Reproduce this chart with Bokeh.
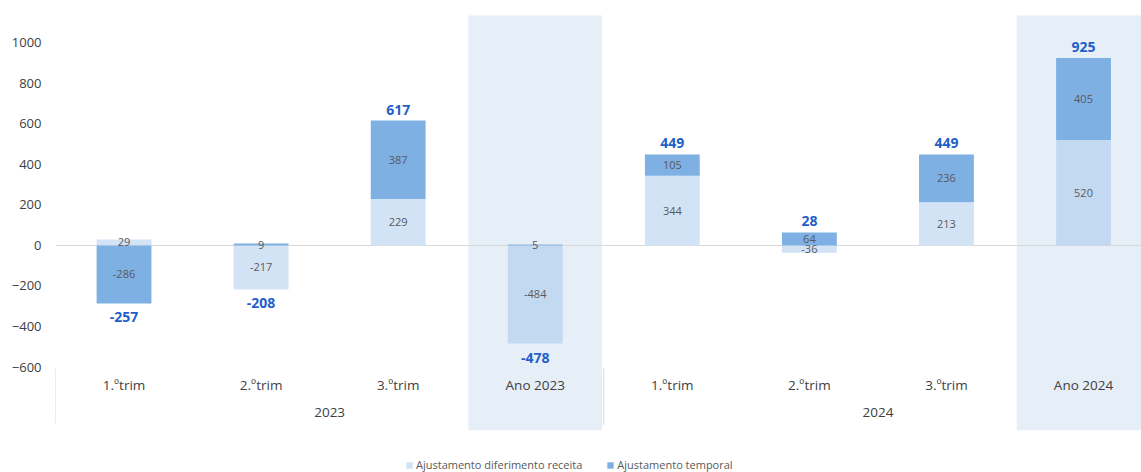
from bokeh.plotting import figure
from bokeh.models import Range1d, FixedTicker, Legend, LegendItem, ColumnDataSource
from bokeh.core.properties import value
from bokeh.embed import file_html
from bokeh.resources import INLINE

# ---- data ----
quarters = ["1.ºtrim", "2.ºtrim", "3.ºtrim", "Ano 2023", "1.ºtrim", "2.ºtrim", "3.ºtrim", "Ano 2024"]
years = ["2023", "2024"]
diferimento = [29, -217, 229, -484, 344, -36, 213, 520]
temporal = [-286, 9, 387, 5, 105, 64, 236, 405]
totals = [-257, -208, 617, -478, 449, 28, 449, 925]
is_year = [False, False, False, True, False, False, False, True]
y_ticks = [-600, -400, -200, 0, 200, 400, 600, 800, 1000]

FONT = "Open Sans"
LIGHT_Q = "#D3E3F6"
LIGHT_Y = "#C3D9F1"
DARK = "#7EB0E4"
BAND = "#E6EEF8"

n = len(quarters)
xs = [i + 0.5 for i in range(n)]

# stacking like Excel: positives up from 0, negatives down from 0
l_bot, l_top, d_bot, d_top = [], [], [], []
for L, D in zip(diferimento, temporal):
    l_bot.append(0); l_top.append(L)
    if (L >= 0) == (D >= 0):
        d_bot.append(L); d_top.append(L + D)
    else:
        d_bot.append(0); d_top.append(D)

p = figure(width=1141, height=472, output_backend="svg", toolbar_location=None,
           x_range=Range1d(0, 7.923), y_range=Range1d(-1120, 1139),
           min_border_left=55, min_border_right=0, min_border_top=14, min_border_bottom=0)
p.outline_line_color = None
p.xaxis.visible = False
p.xgrid.visible = False
p.ygrid.visible = False
p.yaxis.ticker = FixedTicker(ticks=y_ticks)
p.yaxis.axis_line_color = None
p.yaxis.major_tick_line_color = None
p.yaxis.minor_tick_line_color = None
p.yaxis.major_tick_out = 0
p.yaxis.major_label_standoff = 14
p.yaxis.major_label_text_font = FONT
p.yaxis.major_label_text_font_size = "13px"
p.yaxis.major_label_text_color = "#404040"

# shaded year-total bands
band_x = [xs[i] for i in range(n) if is_year[i]]
p.vbar(x=band_x, width=0.975, bottom=-912, top=1134, fill_color=BAND, line_color=None)

# zero line
p.hspan(y=[0], line_color="#D9D9D9", line_width=1)

# separators of category axis
p.segment(x0=[0, 4], x1=[0, 4], y0=[-607, -607], y1=[-880, -885], line_color="#D9D9D9", line_width=1)

# bars
light_cols = [LIGHT_Y if y else LIGHT_Q for y in is_year]
src = ColumnDataSource(dict(x=xs, lb=l_bot, lt=l_top, db=d_bot, dt=d_top, lc=light_cols))
r_light = p.vbar(x="x", width=0.4, bottom="lb", top="lt", fill_color="lc", line_color=None, source=src)
r_dark = p.vbar(x="x", width=0.4, bottom="db", top="dt", fill_color=DARK, line_color=None, source=src)

# segment labels
lab_x = xs + xs
lab_y = [(b + t) / 2 for b, t in zip(l_bot, l_top)] + [(b + t) / 2 for b, t in zip(d_bot, d_top)]
lab_t = [str(v) for v in diferimento] + [str(v) for v in temporal]
p.text(x=lab_x, y=lab_y, text=lab_t, text_font=value(FONT), text_font_size="11px",
       text_color="#595959", text_align="center", text_baseline="middle")

# totals
tot_y = []
tot_off = []
for i, t in enumerate(totals):
    if t >= 0:
        tot_y.append(max(l_top[i], d_top[i], 0)); tot_off.append(-11)
    else:
        tot_y.append(min(l_top[i], d_top[i], 0)); tot_off.append(14)
p.text(x=xs, y=tot_y, text=[str(t) for t in totals], y_offset=tot_off,
       text_font=value(FONT), text_font_size="14px", text_font_style="bold",
       text_color="#1F5FC9", text_align="center", text_baseline="middle")

# category labels
p.text(x=xs, y=[-686] * n, text=quarters, text_font=value(FONT), text_font_size="13.5px",
       text_color="#404040", text_align="center", text_baseline="middle")
p.text(x=[2, 6], y=[-824, -824], text=years, text_font=value(FONT), text_font_size="13.5px",
       text_color="#404040", text_align="center", text_baseline="middle")

legend = Legend(items=[LegendItem(label="Ajustamento diferimento receita", renderers=[r_light]),
                       LegendItem(label="Ajustamento temporal", renderers=[r_dark])],
                location=(350, 0), orientation="horizontal",
                glyph_width=8, glyph_height=8, label_text_font=FONT, label_text_font_size="11px",
                label_text_color="#595959", spacing=24, padding=0, margin=0,
                background_fill_alpha=0, border_line_alpha=0, label_standoff=3)
p.add_layout(legend)

open("out.html", "w").write(file_html(p, INLINE))
